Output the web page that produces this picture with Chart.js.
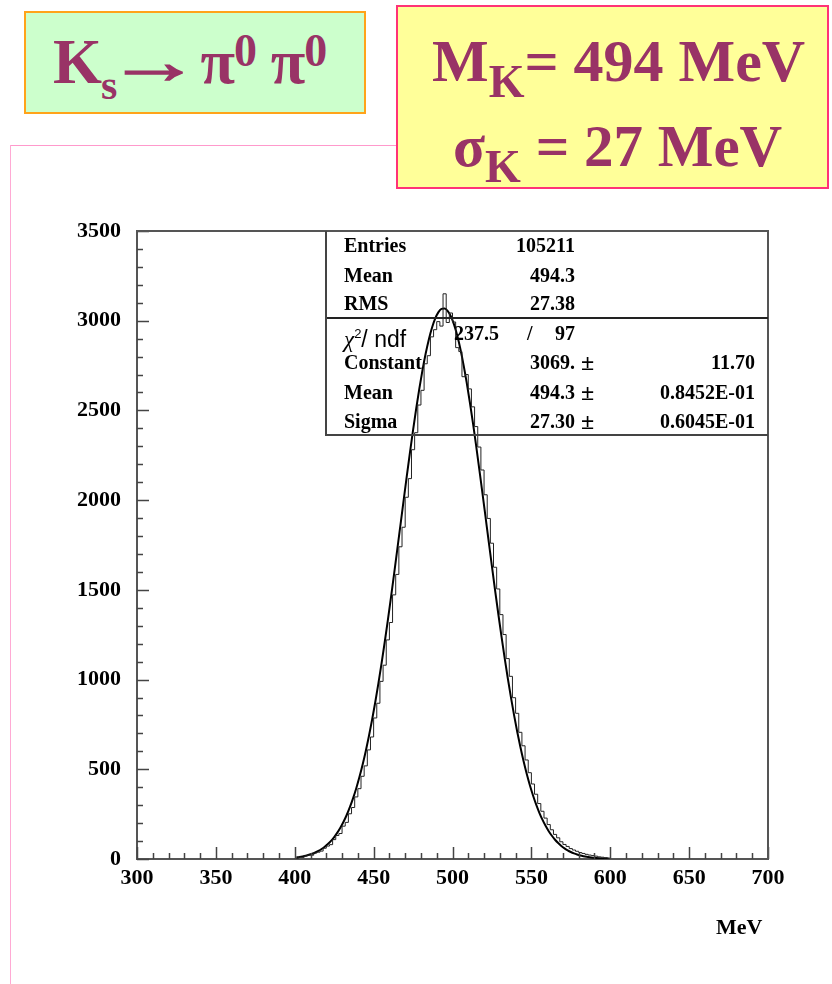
<!DOCTYPE html>
<html>
<head>
<meta charset="utf-8">
<script src="https://cdn.jsdelivr.net/npm/chart.js@4/dist/chart.umd.min.js"></script>
<style>
  body { margin: 0; width: 832px; height: 984px; position: relative; overflow: hidden; background: #fff;
         font-family: "Liberation Serif", "Times New Roman", serif; }
  #frameH { position: absolute; left: 10px; top: 145px; width: 400px; height: 0; border-top: 1px solid #ff99cc; }
  #frameV { position: absolute; left: 10px; top: 145px; width: 0; height: 840px; border-left: 1px solid #ffaad4; }
  canvas { position: absolute; left: 0; top: 0; }
  .title { position: absolute; color: #993366; font-weight: bold; white-space: nowrap; }
  #boxA { left: 24px; top: 11px; width: 338px; height: 99px; background: #ccffcc; border: 2px solid #ffa31a; }
  #boxB { left: 396px; top: 5px; width: 429px; height: 180px; background: #ffff99; border: 2px solid #ff3377; }
  .arrow { display: inline-block; transform: scaleX(1.5); margin: 0 16px 0 6px; -webkit-text-stroke: 1.5px #993366; }
  .stats { position: absolute; left: 325px; top: 231px; width: 441px; height: 203px;
           border-left: 2px solid #444; border-bottom: 2px solid #444; font-weight: bold; font-size: 20px; color: #000; }
  .stats .sep { position: absolute; left: 0; top: 86px; width: 441px; border-top: 2px solid #222; }
  .stats .row { position: absolute; left: 0; width: 441px; height: 29px; line-height: 29px; }
  .stats span { position: absolute; }
  .lbl { left: 17px; }
  .v1 { right: 193px; text-align: right; }
  .pm { left: 254px; font-size: 24px; }
  .v2 { right: 13px; text-align: right; }
  #unit { position: absolute; left: 716px; top: 914px; font-weight: bold; font-size: 22px; }
</style>
</head>
<body>
<div id="frameH"></div>
<div id="frameV"></div>
<canvas id="hist" width="832" height="984"></canvas>

<div class="title" id="boxA">
  <div style="position:absolute;left:27px;top:14px;font-size:63px;line-height:70px;letter-spacing:-1px;">K<span style="font-size:42px;position:relative;top:16px;">s</span><span class="arrow">→</span>π<span style="font-size:46px;position:relative;top:-17px;">0</span> π<span style="font-size:46px;position:relative;top:-17px;">0</span></div>
</div>
<div class="title" id="boxB">
  <div style="position:absolute;left:34px;top:19px;font-size:60px;line-height:70px;">M<span style="font-size:46px;position:relative;top:16px;">K</span>= 494 MeV</div>
  <div style="position:absolute;left:55px;top:104px;font-size:59px;line-height:70px;">σ<span style="font-size:46px;position:relative;top:16px;">K</span> = 27 MeV</div>
</div>

<div class="stats">
  <div class="row" style="top:0px"><span class="lbl">Entries</span><span class="v1">105211</span></div>
  <div class="row" style="top:30px"><span class="lbl">Mean</span><span class="v1">494.3</span></div>
  <div class="row" style="top:58px"><span class="lbl">RMS</span><span class="v1">27.38</span></div>
  <div class="sep"></div>
  <div class="row" style="top:88px;"><span class="lbl" style="font-family:'Liberation Sans',Arial,sans-serif;font-weight:normal;font-size:23px;"><i style="font-family:'Liberation Serif',serif">χ</i><sup style="font-size:13px">2</sup>/ ndf</span><span style="right:269px;">237.5</span><span style="left:200px;">/</span><span class="v1">97</span></div>
  <div class="row" style="top:117px"><span class="lbl">Constant</span><span class="v1">3069.</span><span class="pm">±</span><span class="v2">11.70</span></div>
  <div class="row" style="top:147px"><span class="lbl">Mean</span><span class="v1">494.3</span><span class="pm">±</span><span class="v2">0.8452E-01</span></div>
  <div class="row" style="top:176px"><span class="lbl">Sigma</span><span class="v1">27.30</span><span class="pm">±</span><span class="v2">0.6045E-01</span></div>
</div>

<div id="unit">MeV</div>

<script>
// histogram: 2 MeV bins starting at 400 MeV
const binStart = 400;
const binWidth = 2;
const counts = [
  10, 9, 17, 22, 21, 33, 38, 44, 60, 72,
  80, 108, 131, 142, 183, 204, 252, 287, 346, 392,
  461, 519, 608, 680, 786, 868, 990, 1080, 1221, 1318,
  1472, 1586, 1740, 1849, 2016, 2120, 2281, 2376, 2530, 2612,
  2760, 2805, 2910, 2950, 2995, 2970, 3150, 2990, 3043, 2993,
  2850, 2828, 2688, 2700, 2620, 2520, 2410, 2296, 2168, 2030,
  1898, 1760, 1626, 1505, 1362, 1251, 1117, 1018, 899, 812,
  706, 631, 552, 481, 418, 361, 309, 266, 228, 192,
  163, 137, 118, 96, 81, 70, 58, 50, 43, 36,
  31, 26, 22, 19, 16, 12, 10, 7, 5, 3
];
// gaussian fit curve read at the bin centres
const fitValues = [
  8.9, 11.4, 14.6, 18.5, 23.3, 29.2, 36.4, 45.2, 55.7, 68.4,
  83.4, 101.3, 122.4, 146.9, 175.5, 208.7, 246.6, 290.1, 339.2, 394.4,
  456.4, 525.1, 600.9, 684.1, 774.6, 872.5, 977.2, 1088.9, 1206.7, 1330.1,
  1458.4, 1590.7, 1725.4, 1861.4, 1997.6, 2132.0, 2263.7, 2390.4, 2510.7, 2623.1,
  2725.6, 2817.0, 2895.9, 2961.0, 3011.6, 3046.6, 3065.6, 3068.0, 3054.0, 3023.9,
  2977.9, 2917.1, 2842.2, 2754.2, 2654.7, 2545.4, 2427.3, 2302.1, 2171.9, 2038.1,
  1902.2, 1766.2, 1630.9, 1497.7, 1368.2, 1243.2, 1123.5, 1010.0, 903.2, 803.2,
  710.5, 625.2, 547.2, 476.3, 412.2, 355.1, 304.1, 259.0, 219.4, 185.1,
  155.0, 129.5, 107.4, 88.7, 72.7, 59.2, 48.2, 38.9, 31.2, 24.9,
  19.8, 15.7, 12.3, 9.6, 7.5, 5.8, 4.5, 3.4, 2.6, 2.0
];
const xTicks = [300, 350, 400, 450, 500, 550, 600, 650, 700];
const yTicks = [0, 500, 1000, 1500, 2000, 2500, 3000, 3500];

// step outline points at the bin edges
const histPoints = [{x: binStart, y: 0}];
counts.forEach((c, i) => histPoints.push({x: binStart + (i + 1) * binWidth, y: c}));
histPoints.push({x: binStart + counts.length * binWidth, y: 0});

const fitPoints = fitValues.map((v, i) => ({x: binStart + binWidth / 2 + i * binWidth, y: v}));

const axisFont = {family: "'Liberation Serif', 'Times New Roman', serif", size: 22, weight: 'bold'};

// inward ticks + top/right frame, like the PAW plot
const paw = {
  id: 'paw',
  afterDraw(chart) {
    const {ctx, chartArea: a, scales: {x, y}} = chart;
    ctx.save();
    ctx.strokeStyle = '#444';
    ctx.lineWidth = 1.5;
    ctx.beginPath();
    for (let v = 300; v <= 700; v += 10) {
      const px = Math.round(x.getPixelForValue(v)) + 0.5;
      const len = v % 50 === 0 ? 12 : 6;
      ctx.moveTo(px, a.bottom);
      ctx.lineTo(px, a.bottom - len);
    }
    for (let v = 0; v <= 3500; v += 100) {
      const py = Math.round(y.getPixelForValue(v)) + 0.5;
      const len = v % 500 === 0 ? 12 : 6;
      ctx.moveTo(a.left, py);
      ctx.lineTo(a.left + len, py);
    }
    ctx.stroke();
    ctx.strokeStyle = '#555';
    ctx.lineWidth = 2;
    ctx.beginPath();
    ctx.moveTo(a.left, a.top);
    ctx.lineTo(a.right, a.top);
    ctx.lineTo(a.right, a.bottom);
    ctx.stroke();
    ctx.restore();
  }
};

new Chart(document.getElementById('hist'), {
  type: 'line',
  data: {
    datasets: [
      {
        label: 'histogram',
        data: histPoints,
        stepped: 'before',
        borderColor: '#222',
        borderWidth: 1,
        pointRadius: 0,
        fill: false
      },
      {
        label: 'fit',
        data: fitPoints,
        borderColor: '#000',
        borderWidth: 2,
        pointRadius: 0,
        cubicInterpolationMode: 'monotone',
        fill: false
      }
    ]
  },
  options: {
    responsive: false,
    animation: false,
    layout: {padding: {left: 0, top: 231, right: 64, bottom: 0}},
    plugins: {legend: {display: false}, tooltip: {enabled: false}},
    scales: {
      x: {
        type: 'linear',
        min: 300,
        max: 700,
        afterBuildTicks: (s) => { s.ticks = xTicks.map(v => ({value: v})); },
        afterFit: (s) => { s.height = 125; },
        grid: {display: false, drawTicks: false},
        border: {display: true, color: '#555', width: 2},
        ticks: {color: '#000', font: axisFont, padding: 6, maxRotation: 0, callback: (v) => String(v)}
      },
      y: {
        min: 0,
        max: 3500,
        afterBuildTicks: (s) => { s.ticks = yTicks.map(v => ({value: v})); },
        afterFit: (s) => { s.width = 137; },
        grid: {display: false, drawTicks: false},
        border: {display: true, color: '#555', width: 2},
        ticks: {color: '#000', font: axisFont, padding: 16, callback: (v) => String(v)}
      }
    }
  },
  plugins: [paw]
});
</script>
</body>
</html>
